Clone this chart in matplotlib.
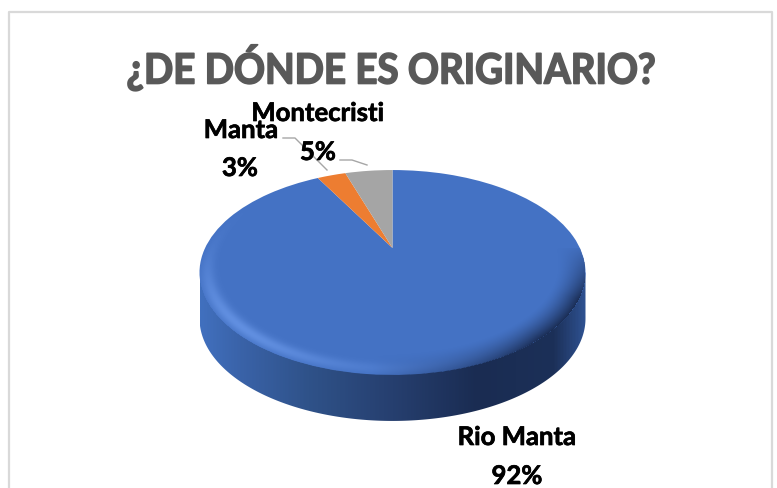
import numpy as np
import matplotlib
matplotlib.use("Agg")
import matplotlib.pyplot as plt
from matplotlib.colors import LinearSegmentedColormap
from matplotlib.patches import Polygon
from matplotlib.patheffects import AbstractPathEffect, withStroke
from matplotlib.transforms import Affine2D, Transform

title = "¿DE DÓNDE ES ORIGINARIO?"
categories = ["Rio Manta", "Manta", "Montecristi"]
values = [92, 3, 5]
colors = ["#4472C4", "#ED7D31", "#A5A5A5"]

# pie is tilted, so the centre sits above the middle of the ellipse
CX, CY = 392.5, 248.0
SX, SY, K = 187.4, 96.6, 0.239
DEPTH = 46


class Tilt(Transform):
    input_dims = output_dims = 2

    def __init__(self, dy=0):
        super().__init__()
        self.dy = dy

    def transform_non_affine(self, xy):
        xy = np.asarray(xy)
        d = 1 + K * xy[:, 1]
        return np.column_stack([CX + SX * xy[:, 0] / d, CY + self.dy - SY * xy[:, 1] / d])


class Squeeze(AbstractPathEffect):
    # the title font in the picture is narrower and heavier than Lato
    def __init__(self, sx, cx, color, lw):
        super().__init__()
        self.sx = sx
        self.cx = cx
        self.color = color
        self.lw = lw

    def draw_path(self, renderer, gc, tpath, affine, rgbFace=None):
        squeeze = Affine2D().translate(-self.cx, 0).scale(self.sx, 1).translate(self.cx, 0)
        gc0 = renderer.new_gc()
        gc0.copy_properties(gc)
        gc0.set_foreground(self.color)
        gc0.set_linewidth(self.lw)
        renderer.draw_path(gc0, tpath, affine + squeeze, rgbFace)
        gc0.restore()


fig = plt.figure(figsize=(7.77, 4.88), dpi=100)
ax = fig.add_axes([0, 0, 1, 1])

wedges, _ = ax.pie(values, colors=colors, startangle=90, counterclock=False)
ax.set_aspect("auto")
ax.axis("off")
for w in wedges:
    w.set_transform(Tilt() + ax.transData)
    w.set_clip_on(False)
    w.set_zorder(3)

# side of the disc
t = np.linspace(0, 2 * np.pi, 721)
circle = np.column_stack([np.cos(t), np.sin(t)])
top_edge = Tilt().transform_non_affine(circle)
low_edge = Tilt(DEPTH).transform_non_affine(circle)
mid_y = (top_edge[:, 1].min() + top_edge[:, 1].max()) / 2
x_left, x_right = top_edge[:, 0].min(), top_edge[:, 0].max()
low_half = low_edge[low_edge[:, 1] >= mid_y + DEPTH]
low_half = low_half[np.argsort(low_half[:, 0])]
outline = np.vstack([[x_left, mid_y], low_half, [x_right, mid_y]])
side_patch = Polygon(outline, closed=True, transform=ax.transData, fc="none", ec="none")
ax.add_patch(side_patch)
side_cmap = LinearSegmentedColormap.from_list(
    "side", [(0, "#4170BE"), (0.1, "#3A63A9"), (0.28, "#2F5289"), (0.5, "#263F6F"),
             (0.72, "#1A2C52"), (0.92, "#1C3058"), (1, "#2E5190")])
side = ax.imshow(np.linspace(0, 1, 386)[None, :], cmap=side_cmap, aspect="auto",
                 extent=[x_left, x_right, 430, mid_y], zorder=2)
side.set_clip_path(side_patch)

# bevel round the front of the top face
yy, xx = np.mgrid[160:390, 195:592] + 0.5
Y = (CY - yy) / SY
X = (xx - CX) / SX
den = 1 - K * Y
ux, uy = X / den, Y / den
r = np.hypot(ux, uy)
ang = np.degrees(np.arctan2(uy, ux)) % 360
band = np.clip((r - 0.86) / 0.14, 0, 1) ** 1.5
band[r > 1.0] = 0
light = np.exp(-((ang - 225) / 38) ** 2) * np.exp(-((r - 0.96) / 0.035) ** 2) * 0.75
light[r > 1.0] = 0
dark = np.clip((ang - 265) / 45, 0, 1) * np.clip((362 - ang) / 30, 0, 1) * band * 0.95
bevel = np.zeros(r.shape + (4,))
mix = light / np.maximum(light + dark, 1e-6)
bevel[..., 0] = mix * 0.42 + (1 - mix) * 0.10
bevel[..., 1] = mix * 0.60 + (1 - mix) * 0.17
bevel[..., 2] = mix * 0.92 + (1 - mix) * 0.32
bevel[..., 3] = np.clip(light + dark, 0, 1)
ax.imshow(bevel, extent=[195, 592, 390, 160], aspect="auto", zorder=4, interpolation="bilinear")

ax.set_xlim(0, 777)
ax.set_ylim(488, 0)

# chart frame, bottom edge is off the picture
ax.plot([9, 9, 772, 772], [490, 12, 12, 490], color="#D9D9D9", lw=1.6, zorder=1)

ax.text(391, 83.5, title, ha="center", va="baseline", family="Lato", weight="bold",
        fontsize=30, color="#595959", zorder=6, path_effects=[Squeeze(0.923, 391, "#595959", 1.2)])

# leader lines
ax.plot([283, 295, 327], [138, 138, 170], color="#A6A6A6", lw=1, zorder=5)
ax.plot([340, 352, 367], [160, 160, 165], color="#A6A6A6", lw=1, zorder=5)

label_pos = [(517, 437, 517, 476), (241, 130, 240, 168), (318, 113, 318, 152)]
heavy = [withStroke(linewidth=0.5, foreground="black")]
for name, val, (x1, y1, x2, y2) in zip(categories, values, label_pos):
    ax.text(x1, y1, name, ha="center", va="center", family="Lato", weight="bold",
            fontsize=18.5, color="black", zorder=6, path_effects=heavy)
    ax.text(x2, y2, "%d%%" % val, ha="center", va="center", family="Lato", weight="bold",
            fontsize=18.5, color="black", zorder=6, path_effects=heavy)

fig.savefig("out.png", dpi=100)
